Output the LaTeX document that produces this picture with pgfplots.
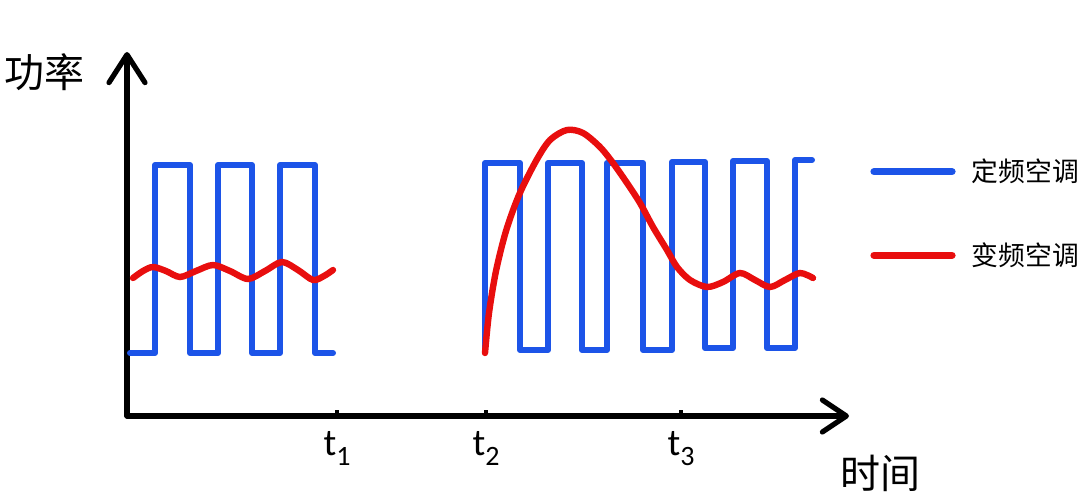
\documentclass[border=0pt]{standalone}
\usepackage{pgfplots}
\pgfplotsset{compat=1.18}
\usetikzlibrary{arrows.meta}
\usepackage{fontspec}
\setmainfont{Carlito}
\newfontfamily\cjk{Noto Sans CJK SC}
\definecolor{fixblue}{RGB}{28,84,232}
\definecolor{varred}{RGB}{232,14,14}
\newcommand{\tsub}[1]{t\raisebox{-5pt}{\fontsize{14}{14}\selectfont #1}}
\begin{document}
\begin{tikzpicture}
\begin{axis}[
  x=0.5pt, y=0.5pt,
  xmin=127, xmax=849, ymin=77, ymax=441,
  clip=false,
  axis x line=bottom, axis y line=left,
  axis line style={line width=2.6pt, black, line cap=round},
  every outer x axis line/.append style={-{Straight Barb[length=12pt,width=16pt,round]}},
  every outer y axis line/.append style={-{Straight Barb[length=14pt,width=18pt,round]}},
  xtick={337,486,681}, ytick=\empty,
  xticklabels={\tsub{1},\tsub{2},\tsub{3}},
  tick align=inside, major tick length=3pt,
  tick style={line width=1.6pt, black},
  xticklabel style={font=\fontsize{19}{19}\selectfont, yshift=-4pt},
  legend style={draw=none, fill=none, at={(axis cs:870,279.5)}, anchor=west,
    inner sep=0pt, row sep=29pt, column sep=8pt,
    nodes={inner sep=0pt}, font=\cjk\fontsize{13.4}{13.4}\selectfont},
  legend cell align=left,
  legend image code/.code={\draw[#1, line width=3.6pt, line cap=round] (0pt,0pt) -- (39pt,0pt);},
]
% fixed-speed unit, before t1
\addplot[fixblue, line width=3pt, line join=round, line cap=round] coordinates {
  (130,140) (155,140) (155,328) (190,328) (190,140) (218,140) (218,328)
  (252,328) (252,140) (280,140) (280,328) (315,328) (315,140) (333,140)
};
\addlegendentry{定频空调}
% inverter unit, before t1
\addplot[varred, line width=3.2pt, smooth, line cap=round] coordinates {
  (133,215) (143,222) (153,226) (166,222) (180,216) (196,222) (213,228)
  (230,222) (248,214) (265,222) (282,231) (298,223) (313,213) (324,217) (333,223)
};
\addlegendentry{变频空调}
% fixed-speed unit, after t2
\addplot[fixblue, line width=3pt, line join=round, line cap=round, forget plot] coordinates {
  (485,143) (485,330) (520,330) (520,143) (548,143) (548,330) (582,330)
  (582,143) (607,143) (607,330) (643,330) (643,143) (672,143) (672,331)
  (705,331) (705,145) (733,145) (733,332) (767,332) (767,145) (795,145)
  (795,333) (812,333)
};
% inverter unit, after t2
\addplot[varred, line width=3.2pt, smooth, line cap=round, forget plot] coordinates {
  (485,140) (489,180) (496,222) (506,262) (519,298) (536,332) (550,353)
  (567,363) (583,360) (600,346) (613,330) (627,310) (640,290) (653,266)
  (667,243) (677,226) (690,213) (707,206) (723,211) (740,220) (755,213)
  (770,206) (785,213) (800,220) (813,215)
};
\node[font=\cjk\fontsize{20}{20}\selectfont] at (axis cs:45,421) {功率};
\node[font=\cjk\fontsize{20}{20}\selectfont] at (axis cs:880,20) {时间};
\coordinate (bl) at (axis cs:0,0);
\coordinate (tr) at (axis cs:1080,493);
\end{axis}
\pgfresetboundingbox
\path[use as bounding box] (bl) rectangle (tr);
\end{tikzpicture}
\end{document}
